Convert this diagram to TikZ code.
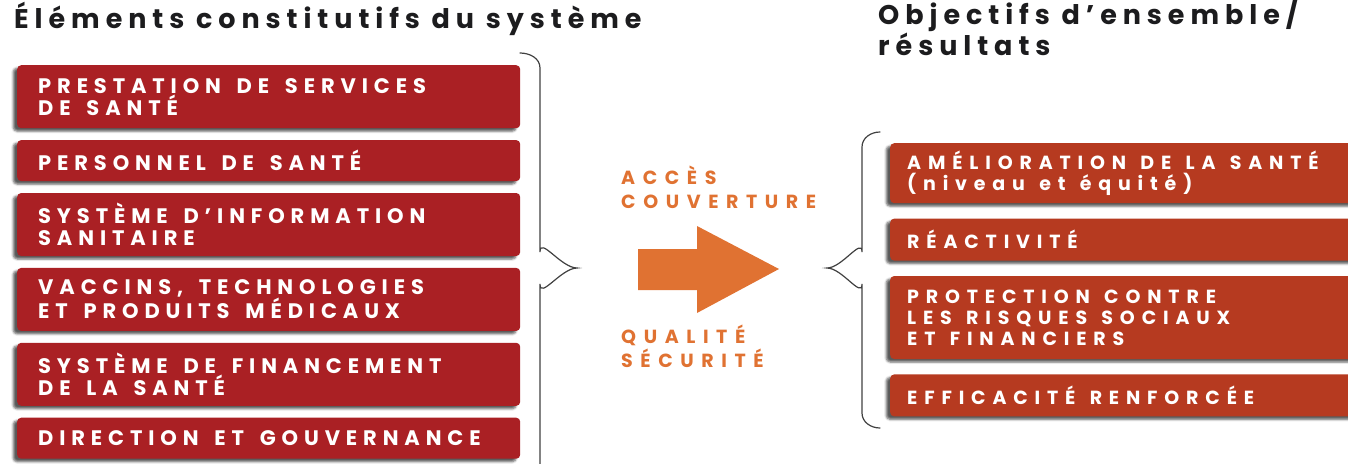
\documentclass[tikz,border=0pt]{standalone}
\usepackage{fontspec}
\setmainfont{Poppins}
\newfontfamily\blocfont{Poppins Bold}[LetterSpace=28]
\newfontfamily\objfont{Poppins Bold}[LetterSpace=36]
\newfontfamily\levierfont{Poppins Bold}[LetterSpace=40]
\newfontfamily\titrefont{Poppins Bold}[LetterSpace=22]
\usetikzlibrary{positioning,shadows.blur}

\definecolor{blocrouge}{RGB}{170,32,36}
\definecolor{blocrouille}{RGB}{182,58,32}
\definecolor{orangefleche}{RGB}{224,114,50}
\definecolor{encre}{RGB}{28,28,30}

\begin{document}
\begin{tikzpicture}[x=1pt,y=-1pt,node distance=11.5pt,
                     element/.style={
                                % The shape:
                                rectangle,rounded corners=4pt,minimum height=41pt,
                                text width=461pt,inner xsep=21pt,inner ysep=3pt,align=left,
                                % The rest
                                fill=blocrouge,text=white,
                                blur shadow={shadow xshift=-4pt,shadow yshift=-3pt,shadow opacity=65},
                                font={\blocfont\fontsize{21}{22}\selectfont},
                                execute at begin node={\spaceskip=0.75em\relax}},
                     objectif/.style={
                                % The shape:
                                rectangle,rounded corners=4pt,minimum height=42pt,
                                text width=432pt,inner xsep=17pt,inner ysep=3pt,align=left,
                                % The rest
                                fill=blocrouille,text=white,
                                blur shadow={shadow xshift=-4pt,shadow yshift=-3pt,shadow opacity=65},
                                font={\objfont\fontsize{19}{21}\selectfont},
                                execute at begin node={\spaceskip=0.75em\relax}},
                     titre/.style={anchor=base west,inner sep=0pt,align=left,text=encre,
                                font={\titrefont\fontsize{27}{27}\selectfont}},
                     levier/.style={anchor=base west,inner sep=0pt,align=left,text=orangefleche,
                                font={\levierfont\fontsize{19}{24}\selectfont}},
                     accolade/.style={draw=black!75,line width=1.2pt,line cap=round}]
 % frame of the picture
 \useasboundingbox (0,0) rectangle (1348,463);

 % titles (base = last line)
 \node (titreg) [titre] at (14,28)  {Éléments constitutifs du système};
 \node (titred) [titre] at (878,55) {Objectifs d’ensemble/\\résultats};

 % building blocks
 \node (prestation) [element,anchor=north west,minimum height=63pt] at (17,65)
       {PRESTATION DE SERVICES\\DE SANTÉ};
 \node (personnel)  [element,below=of prestation] {PERSONNEL DE SANTÉ};
 \node (information)[element,below=of personnel,minimum height=63pt]
       {SYSTÈME D’INFORMATION\\SANITAIRE};
 \node (vaccins)    [element,below=of information,minimum height=63pt]
       {VACCINS, TECHNOLOGIES\\ET PRODUITS MÉDICAUX};
 \node (financement)[element,below=of vaccins,minimum height=63pt]
       {SYSTÈME DE FINANCEMENT\\DE LA SANTÉ};
 \node (direction)  [element,below=of financement] {DIRECTION ET GOUVERNANCE};

 % outcomes
 \node (amelioration)[objectif,anchor=north west,minimum height=60pt] at (890,143)
       {AMÉLIORATION DE LA SANTÉ\\(niveau et équité)};
 \node (reactivite) [objectif,below=15pt of amelioration] {RÉACTIVITÉ};
 \node (protection) [objectif,below=15pt of reactivite,minimum height=83pt]
       {PROTECTION CONTRE\\LES RISQUES SOCIAUX\\ET FINANCIERS};
 \node (efficacite) [objectif,below=15pt of protection] {EFFICACITÉ RENFORCÉE};

 % braces
 \coordinate (pointeg) at (577,268);
 \coordinate (pointed) at (827,268);
 \draw [accolade] (520,53) to[out=0,in=90] (540,68) -- (540,252)
                  to[out=90,in=180] (pointeg) to[out=180,in=-90] (540,284) -- (540,470);
 \draw [accolade] (880,132) to[out=180,in=90] (862,147) -- (862,252)
                  to[out=90,in=0] (pointed) to[out=0,in=-90] (862,284) -- (862,413)
                  to[out=-90,in=180] (880,428);

 % middle arrow and levers (base = last line)
 \node (acces)   [levier] at (621,208) {ACCÈS\\COUVERTURE};
 \node (qualite) [levier] at (621,367) {QUALITÉ\\SÉCURITÉ};
 \fill [orangefleche] (638,249) -- (697,249) -- (697,226) -- (779,269)
                      -- (697,313) -- (697,290) -- (638,290) -- cycle;
\end{tikzpicture}
\end{document}
